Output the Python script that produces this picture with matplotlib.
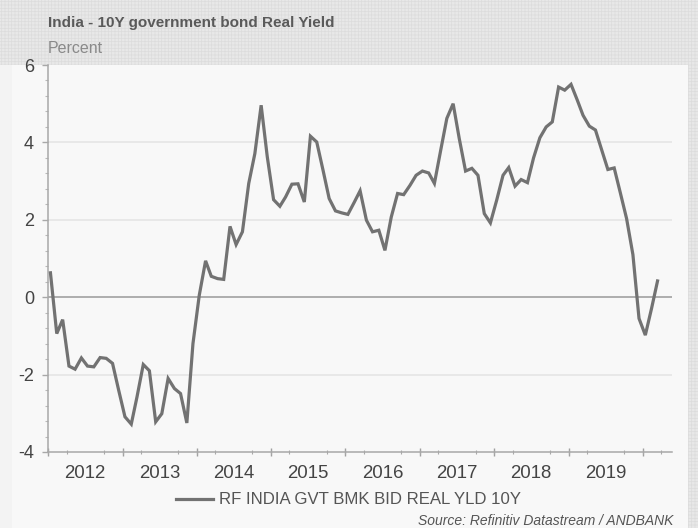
import matplotlib
matplotlib.use("Agg")
import matplotlib.pyplot as plt
import matplotlib.dates as mdates
import matplotlib.patches as mpatches
from matplotlib.ticker import MultipleLocator, NullFormatter
import pandas as pd

# ---- data ----
start_month = "2012-01-01"
series_name = "RF INDIA GVT BMK BID REAL YLD 10Y"
real_yield = [
    0.63, -0.94, -0.58, -1.78, -1.86, -1.57, -1.78, -1.80, -1.56, -1.58, -1.71, -2.40,
    -3.09, -3.28, -2.58, -1.74, -1.90, -3.22, -3.01, -2.10, -2.36, -2.49, -3.25, -1.20,
    0.05, 0.94, 0.54, 0.48, 0.46, 1.83, 1.36, 1.69, 2.94, 3.71, 4.96, 3.63,
    2.52, 2.35, 2.59, 2.92, 2.93, 2.46, 4.16, 4.01, 3.28, 2.55, 2.23, 2.18,
    2.14, 2.45, 2.75, 1.99, 1.69, 1.73, 1.21, 2.07, 2.68, 2.65, 2.89, 3.15,
    3.26, 3.21, 2.94, 3.80, 4.62, 5.00, 4.10, 3.26, 3.33, 3.15, 2.16, 1.92,
    2.51, 3.15, 3.35, 2.87, 3.04, 2.96, 3.60, 4.12, 4.40, 4.53, 5.43, 5.35,
    5.50, 5.09, 4.70, 4.42, 4.32, 3.80, 3.30, 3.34, 2.68, 2.03, 1.10, -0.55,
    -0.98, -0.28, 0.42,
]
y_ticks = [-4, -2, 0, 2, 4, 6]
title = "India - 10Y government bond Real Yield"
subtitle = "Percent"
source = "Source: Refinitiv Datastream / ANDBANK"

dates = pd.date_range(start_month, periods=len(real_yield), freq="MS") + pd.Timedelta(days=12)

plt.rcParams["font.family"] = ["Liberation Sans", "DejaVu Sans"]
plt.rcParams["hatch.linewidth"] = 0.5
plt.rcParams["axes.unicode_minus"] = False

W, H = 698, 528
fig = plt.figure(figsize=(W / 100, H / 100), dpi=100)
fig.patch.set_facecolor("#e6e6e6")

# hatched background everywhere, plain panel for chart body
bg = mpatches.Rectangle((0, 0), 1, 1, transform=fig.transFigure, facecolor="#e8e8e8",
                        edgecolor="#dcdcdc", hatch="+++++", linewidth=0, zorder=-10)
fig.patches.append(bg)
panel = mpatches.Rectangle((0, 0), 688 / W, 1 - 65 / H, transform=fig.transFigure,
                           facecolor="#f8f8f8", edgecolor="none", zorder=-9)
fig.patches.append(panel)
strip = mpatches.Rectangle((0, 0), 12 / W, 1 - 65 / H, transform=fig.transFigure,
                           facecolor="#f3f3f3", edgecolor="none", zorder=-8)
fig.patches.append(strip)

ax = fig.add_axes([48 / W, 1 - 452 / H, 624 / W, 387 / H])
ax.set_facecolor("#f8f8f8")
ax.patch.set_alpha(0)

ax.plot(dates, real_yield, color="#727272", lw=2.3, solid_joinstyle="miter",
        label=series_name, zorder=3)

ax.set_ylim(-4, 6)
ax.set_xlim(pd.Timestamp("2012-01-01"), pd.Timestamp("2020-05-23"))

# gridlines
for v in y_ticks:
    if v in (-4, 6):
        continue
    if v == 0:
        ax.axhline(v, color="#a8a8a8", lw=1.3, zorder=2)
    else:
        ax.axhline(v, color="#e4e4e4", lw=1.1, zorder=1)

for s in ["top", "right"]:
    ax.spines[s].set_visible(False)
for s in ["left", "bottom"]:
    ax.spines[s].set_color("#a8a8a8")
    ax.spines[s].set_linewidth(1.1)

# y axis
ax.set_yticks(y_ticks)
ax.yaxis.set_minor_locator(MultipleLocator(0.4))
ax.tick_params(axis="y", which="major", length=4, width=1, color="#a8a8a8",
               labelsize=13, labelcolor="#444444", pad=6)
ax.tick_params(axis="y", which="minor", length=2, width=0.8, color="#b8b8b8")

# x axis: labels centered mid-year, quarterly minor ticks
ax.xaxis.set_major_locator(mdates.MonthLocator(bymonth=[7], bymonthday=1))
ax.xaxis.set_major_formatter(mdates.DateFormatter("%Y"))
ax.xaxis.set_minor_locator(mdates.MonthLocator(bymonth=[1, 4, 7, 10]))
ax.xaxis.set_minor_formatter(NullFormatter())
ax.tick_params(axis="x", which="major", length=0, labelsize=13.4,
               labelcolor="#444444", pad=9)
ax.tick_params(axis="x", which="minor", length=3, width=0.8, color="#a8a8a8",
               direction="inout")
sec = ax.secondary_xaxis("bottom")
sec.xaxis.set_major_locator(mdates.YearLocator())
sec.xaxis.set_major_formatter(NullFormatter())
sec.tick_params(axis="x", length=6, width=1, color="#a0a0a0", direction="inout")
sec.spines["bottom"].set_visible(False)

# titles
fig.text(48 / W, 1 - 27 / H, title, fontsize=11, fontweight="bold",
         color="#5a5a5a", ha="left", va="baseline")
fig.text(48 / W, 1 - 53 / H, subtitle, fontsize=11.5, color="#8a8a8a",
         ha="left", va="baseline")

leg = ax.legend(loc="center", bbox_to_anchor=(348.5 / W, 1 - 500 / H),
                bbox_transform=fig.transFigure, frameon=False, fontsize=12.1,
                handlelength=2.2, handletextpad=0.35, borderpad=0, borderaxespad=0)
for t in leg.get_texts():
    t.set_color("#555555")

fig.text(673 / W, 1 - 525 / H, source, fontsize=10, style="italic",
         color="#555555", ha="right", va="baseline")

fig.savefig("out.png", dpi=100, facecolor=fig.get_facecolor())
